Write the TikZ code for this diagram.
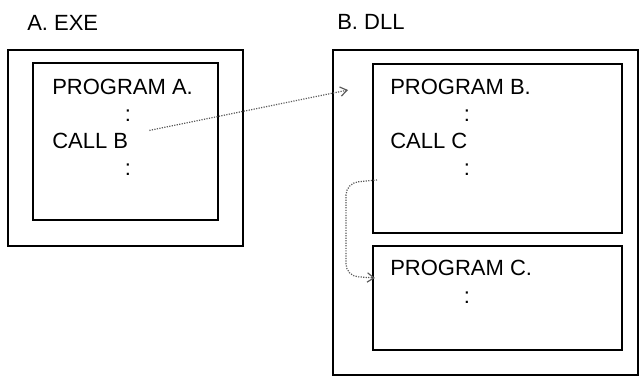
\documentclass[tikz,border=0pt]{standalone}
\usepackage{fontspec}
\setmainfont{Liberation Sans}
\usepackage{tikz}
\usetikzlibrary{arrows.meta,positioning,calc}
\definecolor{callcolor}{RGB}{90,90,90}

\begin{document}
\begin{tikzpicture}[
    x=0.75pt, y=-0.75pt,
    box/.style={
        rectangle, draw, line width=1pt,
        inner sep=0pt, outer sep=0pt
    },
    code/.style={anchor=base west, inner sep=0pt, font=\fontsize{16.5}{20}\selectfont},
    vdots/.style={anchor=base, inner sep=0pt, font=\fontsize{16.5}{20}\selectfont},
    callarrow/.style={-{Straight Barb[length=5pt,width=7pt]}, densely dotted, line width=0.9pt, draw=callcolor}
]
\useasboundingbox (0,0) rectangle (639,376);

% A. EXE side
\node[code] (exe_label) at (27,30) {A. EXE};
\node[box, minimum width=176.25pt, minimum height=147pt] (exe_outer) at (125.5,148) {};
\node[box, minimum width=138.75pt, minimum height=117.75pt] (pgm_a) at (125.5,141.5) {};
\node[code] (pgm_a_title) at (52,94) {PROGRAM A.};
\node[vdots] (pgm_a_dots1) at (128,121) {:};
\node[code] (call_b) at (52,148) {CALL B};
\node[vdots] (pgm_a_dots2) at (128,175) {:};

% B. DLL side
\node[code] (dll_label) at (337,29) {B. DLL};
\node[box, minimum width=228.75pt, minimum height=243.75pt] (dll_outer) at (485.5,212.5) {};
\node[box, minimum width=186.75pt, minimum height=126.75pt] (pgm_b) at (497.5,148.5) {};
\node[code] (pgm_b_title) at (390,94) {PROGRAM B.};
\node[vdots] (pgm_b_dots1) at (467,121) {:};
\node[code] (call_c) at (390,148) {CALL C};
\node[vdots] (pgm_b_dots2) at (467,175) {:};

\node[box, minimum width=186.75pt, minimum height=78pt] (pgm_c) at (497.5,298) {};
\node[code] (pgm_c_title) at (390,275) {PROGRAM C.};
\node[vdots] (pgm_c_dots) at (467,303) {:};

% Call links
\coordinate (entry_b) at (348,90);
\coordinate (exit_b) at (377,180);
\coordinate (entry_c) at (375,278);
\draw[callarrow] ($(call_b.east)+(21,-10)$) -- (entry_b);
\draw[callarrow, rounded corners=9pt] (exit_b) -- (346,183) -- (346,276) -- (entry_c);

\end{tikzpicture}
\end{document}
